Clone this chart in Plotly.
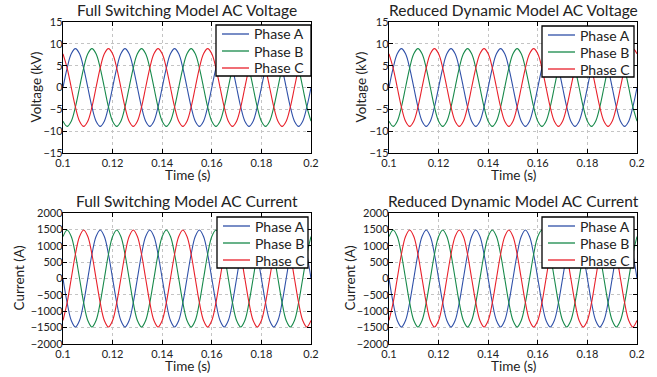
import plotly.graph_objects as go

# time samples (s), every 30 electrical degrees of a 50 Hz wave
time_s = [
    0.1, 0.10167, 0.10333, 0.105, 0.10667, 0.10833,
    0.11, 0.11167, 0.11333, 0.115, 0.11667, 0.11833,
    0.12, 0.12167, 0.12333, 0.125, 0.12667, 0.12833,
    0.13, 0.13167, 0.13333, 0.135, 0.13667, 0.13833,
    0.14, 0.14167, 0.14333, 0.145, 0.14667, 0.14833,
    0.15, 0.15167, 0.15333, 0.155, 0.15667, 0.15833,
    0.16, 0.16167, 0.16333, 0.165, 0.16667, 0.16833,
    0.17, 0.17167, 0.17333, 0.175, 0.17667, 0.17833,
    0.18, 0.18167, 0.18333, 0.185, 0.18667, 0.18833,
    0.19, 0.19167, 0.19333, 0.195, 0.19667, 0.19833,
    0.2,
]

# voltage (kV)
volt_a = [
    0, 4.45, 7.71, 8.9, 7.71, 4.45, 0, -4.45, -7.71, -8.9, -7.71, -4.45,
    0, 4.45, 7.71, 8.9, 7.71, 4.45, 0, -4.45, -7.71, -8.9, -7.71, -4.45,
    0, 4.45, 7.71, 8.9, 7.71, 4.45, 0, -4.45, -7.71, -8.9, -7.71, -4.45,
    0, 4.45, 7.71, 8.9, 7.71, 4.45, 0, -4.45, -7.71, -8.9, -7.71, -4.45,
    0, 4.45, 7.71, 8.9, 7.71, 4.45, 0, -4.45, -7.71, -8.9, -7.71, -4.45,
    0,
]
volt_b = [
    -7.71, -8.9, -7.71, -4.45, 0, 4.45, 7.71, 8.9, 7.71, 4.45, 0, -4.45,
    -7.71, -8.9, -7.71, -4.45, 0, 4.45, 7.71, 8.9, 7.71, 4.45, 0, -4.45,
    -7.71, -8.9, -7.71, -4.45, 0, 4.45, 7.71, 8.9, 7.71, 4.45, 0, -4.45,
    -7.71, -8.9, -7.71, -4.45, 0, 4.45, 7.71, 8.9, 7.71, 4.45, 0, -4.45,
    -7.71, -8.9, -7.71, -4.45, 0, 4.45, 7.71, 8.9, 7.71, 4.45, 0, -4.45,
    -7.71,
]
volt_c = [
    7.71, 4.45, 0, -4.45, -7.71, -8.9, -7.71, -4.45, 0, 4.45, 7.71, 8.9,
    7.71, 4.45, 0, -4.45, -7.71, -8.9, -7.71, -4.45, 0, 4.45, 7.71, 8.9,
    7.71, 4.45, 0, -4.45, -7.71, -8.9, -7.71, -4.45, 0, 4.45, 7.71, 8.9,
    7.71, 4.45, 0, -4.45, -7.71, -8.9, -7.71, -4.45, 0, 4.45, 7.71, 8.9,
    7.71, 4.45, 0, -4.45, -7.71, -8.9, -7.71, -4.45, 0, 4.45, 7.71, 8.9,
    7.71,
]

# current (A)
curr_a = [
    0, -740, -1282, -1480, -1282, -740, 0, 740, 1282, 1480, 1282, 740,
    0, -740, -1282, -1480, -1282, -740, 0, 740, 1282, 1480, 1282, 740,
    0, -740, -1282, -1480, -1282, -740, 0, 740, 1282, 1480, 1282, 740,
    0, -740, -1282, -1480, -1282, -740, 0, 740, 1282, 1480, 1282, 740,
    0, -740, -1282, -1480, -1282, -740, 0, 740, 1282, 1480, 1282, 740,
    0,
]
curr_b = [
    1282, 1480, 1282, 740, 0, -740, -1282, -1480, -1282, -740, 0, 740,
    1282, 1480, 1282, 740, 0, -740, -1282, -1480, -1282, -740, 0, 740,
    1282, 1480, 1282, 740, 0, -740, -1282, -1480, -1282, -740, 0, 740,
    1282, 1480, 1282, 740, 0, -740, -1282, -1480, -1282, -740, 0, 740,
    1282, 1480, 1282, 740, 0, -740, -1282, -1480, -1282, -740, 0, 740,
    1282,
]
curr_c = [
    -1282, -740, 0, 740, 1282, 1480, 1282, 740, 0, -740, -1282, -1480,
    -1282, -740, 0, 740, 1282, 1480, 1282, 740, 0, -740, -1282, -1480,
    -1282, -740, 0, 740, 1282, 1480, 1282, 740, 0, -740, -1282, -1480,
    -1282, -740, 0, 740, 1282, 1480, 1282, 740, 0, -740, -1282, -1480,
    -1282, -740, 0, 740, 1282, 1480, 1282, 740, 0, -740, -1282, -1480,
    -1282,
]

phase_names = ["Phase A", "Phase B", "Phase C"]
titles = [
    "Full Switching Model AC Voltage",
    "Reduced Dynamic Model AC Voltage",
    "Full Switching Model AC Current",
    "Reduced Dynamic Model AC Current",
]
y_titles = ["Voltage (kV)", "Voltage (kV)", "Current (A)", "Current (A)"]
x_title = "Time (s)"
x_ticks = [0.1, 0.12, 0.14, 0.16, 0.18, 0.2]
x_tick_labels = ["0.1", "0.12", "0.14", "0.16", "0.18", "0.2"]
volt_ticks = [-15, -10, -5, 0, 5, 10, 15]
curr_ticks = [-2000, -1500, -1000, -500, 0, 500, 1000, 1500, 2000]

colors = ["#2f50a8", "#17894a", "#e8202a"]
FONT = "Lato"
TXT = "#222"
W, H = 657, 377


def px_x(p):
    return p / W


def px_y(p):
    return 1 - p / H


# panel pixel boxes: (left, right, top, bottom)
panels = [
    (63, 311, 22, 153),
    (389, 637, 22, 153),
    (63, 311, 213, 344),
    (389, 637, 213, 344),
]
# x centre of each rotated y-axis title
y_title_x = [35, 360, 18, 349]
# legend boxes: (left, right, top, bottom)
legend_boxes = [
    (216, 311, 25, 76),
    (542, 634, 26, 77),
    (217, 308, 217, 268),
    (542, 634, 217, 268),
]
series_sets = [
    (volt_a, volt_b, volt_c),
    (volt_a, volt_b, volt_c),
    (curr_a, curr_b, curr_c),
    (curr_a, curr_b, curr_c),
]

fig = go.Figure()
layout = dict(
    width=W, height=H,
    margin=dict(l=0, r=0, t=0, b=0),
    paper_bgcolor="white", plot_bgcolor="white",
    font=dict(family=FONT, color=TXT),
    showlegend=False,
)
annotations = []
shapes = []

for i, (box, series) in enumerate(zip(panels, series_sets)):
    n = i + 1
    xa = "x" if n == 1 else f"x{n}"
    ya = "y" if n == 1 else f"y{n}"
    for name, vals, col in zip(phase_names, series, colors):
        fig.add_trace(go.Scatter(
            x=time_s, y=vals, name=name, mode="lines",
            line=dict(color=col, width=1.1, shape="spline", smoothing=1.0),
            xaxis=xa, yaxis=ya,
        ))
    l, r, t, b = box
    is_volt = i < 2
    common = dict(
        showline=True, linecolor="black", linewidth=1.4, mirror="ticks",
        ticks="inside", ticklen=4, tickcolor="black",
        showgrid=True, gridcolor="#c4c4c4", griddash="dot", gridwidth=1,
        zeroline=False, automargin=False,
        tickfont=dict(size=11, family=FONT, color=TXT),
    )
    layout["xaxis" if n == 1 else f"xaxis{n}"] = dict(
        domain=[px_x(l), px_x(r)], anchor=ya, range=[0.1, 0.2],
        tickvals=x_ticks, ticktext=x_tick_labels,
        ticklabelstandoff=0,
        **common,
    )
    layout["yaxis" if n == 1 else f"yaxis{n}"] = dict(
        domain=[px_y(b), px_y(t)], anchor=xa,
        range=[-15, 15] if is_volt else [-2000, 2000],
        tickvals=volt_ticks if is_volt else curr_ticks,
        ticklabelstandoff=-3,
        **common,
    )
    # panel title
    annotations.append(dict(
        text=titles[i], x=(px_x(l) + px_x(r)) / 2, y=px_y(t - 12),
        xref="paper", yref="paper", showarrow=False,
        xanchor="center", yanchor="middle",
        font=dict(size=15.5, family=FONT, color=TXT),
    ))
    # x-axis title
    annotations.append(dict(
        text=x_title, x=(px_x(l) + px_x(r)) / 2, y=px_y(b + 22),
        xref="paper", yref="paper", showarrow=False,
        xanchor="center", yanchor="middle",
        font=dict(size=13.5, family=FONT, color=TXT),
    ))
    # y-axis title
    annotations.append(dict(
        text=y_titles[i], x=px_x(y_title_x[i]), y=px_y((t + b) / 2),
        xref="paper", yref="paper", showarrow=False, textangle=-90,
        xanchor="center", yanchor="middle",
        font=dict(size=13.5, family=FONT, color=TXT),
    ))

    # legend box drawn in paper space
    ll, lr, lt, lb = legend_boxes[i]
    shapes.append(dict(
        type="rect", xref="paper", yref="paper",
        x0=px_x(ll), x1=px_x(lr), y0=px_y(lb), y1=px_y(lt),
        line=dict(color="black", width=1.3), fillcolor="white", layer="above",
    ))
    row_h = (lb - lt) / 3
    for k, (name, col) in enumerate(zip(phase_names, colors)):
        yc = lt + row_h * (k + 0.5) + 0.5
        shapes.append(dict(
            type="line", xref="paper", yref="paper",
            x0=px_x(ll + 6), x1=px_x(ll + 33), y0=px_y(yc), y1=px_y(yc),
            line=dict(color=col, width=1.3), layer="above",
        ))
        annotations.append(dict(
            text=name, x=px_x(ll + 36), y=px_y(yc),
            xref="paper", yref="paper", showarrow=False,
            xanchor="left", yanchor="middle",
            font=dict(size=14, family=FONT, color=TXT),
        ))

layout["annotations"] = annotations
layout["shapes"] = shapes
fig.update_layout(**layout)
fig.write_html(
    "out.html",
    config={"displayModeBar": False},
    post_script="document.body.style.margin='0';document.body.style.overflow='hidden';",
)
